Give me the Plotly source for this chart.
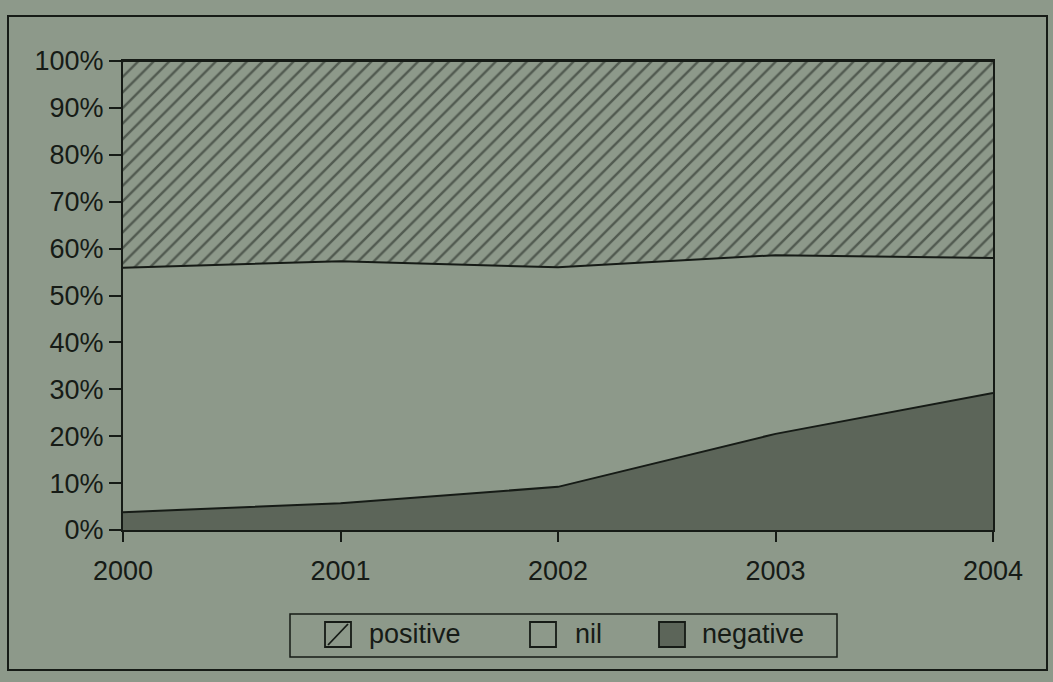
import plotly.graph_objects as go

years = [2000, 2001, 2002, 2003, 2004]
negative = [3.8, 5.7, 9.2, 20.5, 29.2]
nil = [52.1, 51.6, 46.8, 38.1, 28.8]
positive = [44.1, 42.7, 44.0, 41.4, 42.0]
y_ticks = [0, 10, 20, 30, 40, 50, 60, 70, 80, 90, 100]
y_tick_labels = [f"{v}%" for v in y_ticks]
legend_names = ["positive", "nil", "negative"]

BG = "#8d998a"
INK = "#161b16"
DARK = "#5c6559"
FONT = "Liberation Sans, Arial, sans-serif"

W, H = 1053, 682
L, R, T, B = 123, 60, 61, 152
PW, PH = W - L - R, H - T - B


def px(x):
    return (x - L) / PW


def py(y):
    return (H - B - y) / PH


fig = go.Figure()
fig.add_trace(go.Scatter(
    x=years, y=negative, name="negative", stackgroup="one", mode="lines",
    line=dict(color=INK, width=2), fillcolor=DARK, showlegend=False))
fig.add_trace(go.Scatter(
    x=years, y=nil, name="nil", stackgroup="one", mode="lines",
    line=dict(color=INK, width=2), fillcolor=BG, showlegend=False))
fig.add_trace(go.Scatter(
    x=years, y=positive, name="positive", stackgroup="one", mode="lines",
    line=dict(color=INK, width=2), fillcolor=BG, showlegend=False,
    fillpattern=dict(shape="/", fgcolor=INK, bgcolor=BG, size=11, solidity=0.22)))

shapes = [
    # outer frame
    dict(type="rect", xref="paper", yref="paper",
         x0=px(8), x1=px(1047), y0=py(670), y1=py(16),
         line=dict(color=INK, width=2)),
    # legend box
    dict(type="rect", xref="paper", yref="paper",
         x0=px(290), x1=px(837), y0=py(657), y1=py(614),
         line=dict(color=INK, width=1.5)),
]
sym_x = [325, 530, 659]
txt_x = [367, 573, 700]
sym_fill = [BG, BG, DARK]
annotations = []
for i, name in enumerate(legend_names):
    x0 = sym_x[i]
    shapes.append(dict(type="rect", xref="paper", yref="paper",
                       x0=px(x0), x1=px(x0 + 26), y0=py(647), y1=py(622),
                       fillcolor=sym_fill[i], line=dict(color=INK, width=1.8)))
    if name == "positive":
        shapes.append(dict(type="line", xref="paper", yref="paper",
                           x0=px(x0 + 3), x1=px(x0 + 23), y0=py(645), y1=py(624),
                           line=dict(color=INK, width=1.8)))
    annotations.append(dict(xref="paper", yref="paper", x=px(txt_x[i]), y=py(634),
                            text=name, showarrow=False, xanchor="left", yanchor="middle",
                            font=dict(family=FONT, size=27, color=INK)))

fig.update_layout(
    width=W, height=H,
    margin=dict(l=L, r=R, t=T, b=B),
    paper_bgcolor=BG, plot_bgcolor=BG,
    font=dict(family=FONT, size=27, color=INK),
    showlegend=False,
    xaxis=dict(range=[2000, 2004], tickvals=years, ticktext=[str(y) for y in years],
               showgrid=False, zeroline=False, showline=True, linecolor=INK, linewidth=2,
               mirror=True, ticks="outside", ticklen=10, tickcolor=INK, tickwidth=2,
               ticklabelstandoff=6),
    yaxis=dict(range=[0, 100], tickvals=y_ticks, ticktext=y_tick_labels,
               showgrid=False, zeroline=False, showline=True, linecolor=INK, linewidth=2,
               mirror=True, ticks="outside", ticklen=12, tickcolor=INK, tickwidth=2),
    shapes=shapes,
    annotations=annotations,
)

fig.write_html("out.html")
